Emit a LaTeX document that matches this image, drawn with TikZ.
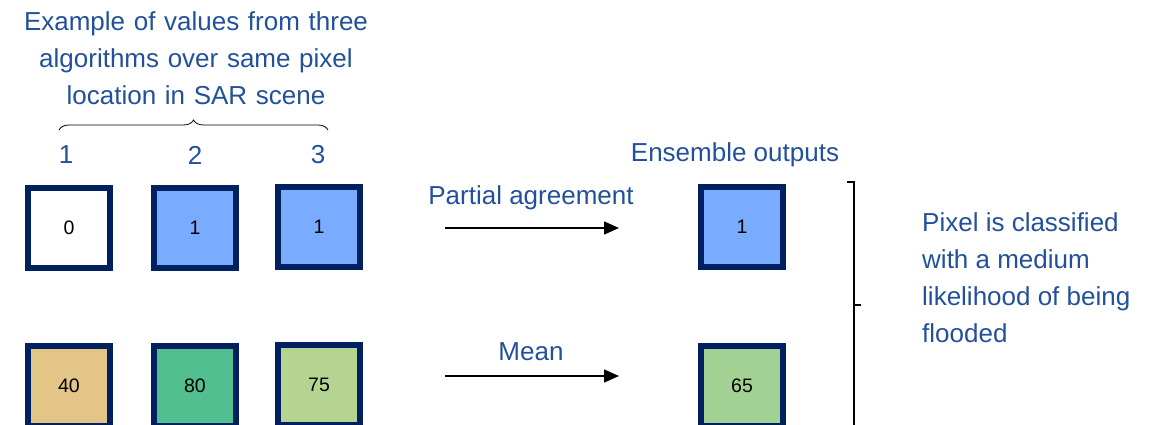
\documentclass[tikz,border=0pt]{standalone}
\usepackage{fontspec}
\setmainfont{Liberation Sans}
\usetikzlibrary{arrows.meta,decorations.pathreplacing}

\definecolor{txtblue}{RGB}{35,80,155}
\definecolor{frame}{RGB}{0,32,96}
\definecolor{wetblue}{RGB}{121,172,255}
\definecolor{tan}{RGB}{227,197,136}
\definecolor{midgreen}{RGB}{82,191,144}
\definecolor{lightgreen}{RGB}{181,212,145}
\definecolor{meangreen}{RGB}{163,209,148}

\tikzset{
  pixel/.style={draw=frame, line width=6pt, minimum width=82pt, minimum height=80pt,
    inner sep=0pt, font=\fontsize{19.5}{22}\selectfont, text=black},
  label/.style={text=txtblue, font=\fontsize{26}{30}\selectfont, inner sep=0pt},
  flow/.style={line width=1.6pt, -{Triangle[length=15pt,width=13pt]}},
  bracket/.style={line width=1.2pt, black}
}

\begin{document}
\begin{tikzpicture}[x=1pt,y=-1pt]
\useasboundingbox (0,0) rectangle (1160,425);

% heading over the three algorithm columns
\node[label, align=center, text width=400pt, font=\fontsize{26}{37}\selectfont] (title) at (196,58)
  {Example of values from three\\algorithms over same pixel\\location in SAR scene};
\draw[line width=0.8pt, decorate, decoration={brace, amplitude=10pt}] (59,130) -- (328,130);

% column numbers
\node[label] (n1) at (66,155) {1};
\node[label] (n2) at (195,155) {2};
\node[label] (n3) at (318,155) {3};

% binary classification of the pixel
\node[pixel, fill=white]   (b1) at (69,228)  {0};
\node[pixel, fill=wetblue] (b2) at (195,228) {1};
\node[pixel, fill=wetblue] (b3) at (319,227) {1};

% continuous values for the same pixel
\node[pixel, fill=tan]        (c1) at (69,386)  {40};
\node[pixel, fill=midgreen]   (c2) at (195,386) {80};
\node[pixel, fill=lightgreen] (c3) at (319,385) {75};

% ensemble results
\node[label] (ens) at (735,155) {Ensemble outputs};
\node[pixel, fill=wetblue]    (e1) at (742,227) {1};
\node[pixel, fill=meangreen]  (e2) at (742,386) {65};

% combination rules
\coordinate (a1s) at (445,228);
\coordinate (a1e) at (619,228);
\coordinate (a2s) at (445,376);
\coordinate (a2e) at (619,376);
\draw[flow] (a1s) -- (a1e);
\draw[flow] (a2s) -- (a2e);
\node[label] (pa) at (531,198) {Partial agreement};
\node[label] (mean) at (531,352) {Mean};

% right bracket grouping the outputs
\coordinate (bt) at (847,182);
\coordinate (bb) at (847,432);
\coordinate (bm) at (861,305);
\draw[bracket] (bt) -- (854,182) -- (854,432) -- (bb);
\draw[bracket] (854,305) -- (bm);

\node[label, align=left, anchor=west, font=\fontsize{26}{37}\selectfont] (res) at (922,278)
  {Pixel is classified\\with a medium\\likelihood of being\\flooded};
\end{tikzpicture}
\end{document}
